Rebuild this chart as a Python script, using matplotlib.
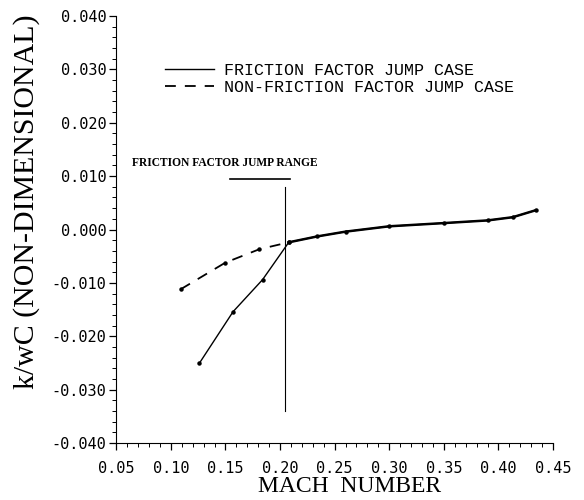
import matplotlib
matplotlib.use("Agg")
import matplotlib.pyplot as plt
from matplotlib.ticker import MultipleLocator, FormatStrFormatter

# friction factor jump case (solid)
mach_jump = [0.126, 0.157, 0.184, 0.208, 0.234, 0.26, 0.30, 0.35, 0.39, 0.413, 0.434]
kwc_jump = [-0.0251, -0.0154, -0.0094, -0.0024, -0.0013, -0.0004, 0.0006, 0.0012, 0.0017, 0.0023, 0.0036]

# non-friction factor jump case (dashed), joins the solid curve at M=0.208
mach_nojump = [0.109, 0.150, 0.181, 0.208]
kwc_nojump = [-0.0112, -0.0062, -0.0037, -0.0024]

# "friction factor jump range" marker
range_x = [0.154, 0.209]
range_y = 0.0094
jump_x = 0.205
jump_y = [0.0080, -0.0340]

xticks = [0.05, 0.10, 0.15, 0.20, 0.25, 0.30, 0.35, 0.40, 0.45]
yticks = [-0.04, -0.03, -0.02, -0.01, 0.0, 0.01, 0.02, 0.03, 0.04]

fig = plt.figure(figsize=(5.84, 5.0), dpi=100)
ax = fig.add_axes([0.199, 0.114, 0.748, 0.854])

ax.plot(mach_jump, kwc_jump, color='black', lw=1.0, marker='o', ms=2.2,
        label='FRICTION FACTOR JUMP CASE')
ax.plot(mach_nojump, kwc_nojump, color='black', lw=1.3, ls=(0, (6, 5)),
        marker='o', ms=2.2, label='NON-FRICTION FACTOR JUMP CASE')
# thicker overlapping tail
ax.plot(mach_jump[3:], kwc_jump[3:], color='black', lw=1.8)

ax.plot(range_x, [range_y, range_y], color='black', lw=1.2)
ax.plot([jump_x, jump_x], jump_y, color='black', lw=0.8)
ax.text(0.064, 0.0124, 'FRICTION FACTOR JUMP RANGE', fontsize=8.3,
        family='Liberation Serif', fontweight='bold', va='center')

ax.set_xlim(0.05, 0.45)
ax.set_ylim(-0.04, 0.04)
ax.set_xticks(xticks)
ax.set_yticks(yticks)
ax.xaxis.set_minor_locator(MultipleLocator(0.01))
ax.yaxis.set_minor_locator(MultipleLocator(0.002))
ax.xaxis.set_major_formatter(FormatStrFormatter('%.2f'))
ax.yaxis.set_major_formatter(FormatStrFormatter('%.3f'))
ax.tick_params(which='major', direction='out', length=5, width=0.9,
               labelsize=11, pad=2)
ax.tick_params(axis='x', which='major', pad=8)
ax.tick_params(which='minor', direction='out', length=3, width=0.7)
for lab in ax.get_xticklabels() + ax.get_yticklabels():
    lab.set_family('DejaVu Sans Mono')

for s in ['top', 'right']:
    ax.spines[s].set_visible(False)

ax.set_xlabel('MACH  NUMBER', family='Liberation Serif', fontsize=17)
ax.xaxis.set_label_coords(0.535, -0.103)
ax.set_ylabel('k/wC (NON-DIMENSIONAL)', family='Liberation Serif', fontsize=21.5)
ax.yaxis.set_label_coords(-0.205, 0.564)
ax.xaxis.label.set_va('center')
ax.yaxis.label.set_va('center')

leg = ax.legend(loc='upper left', bbox_to_anchor=(0.078, 0.926), frameon=False,
                handlelength=2.9, handletextpad=0.6, labelspacing=0.15,
                prop={'family': 'Liberation Mono', 'size': 12})
for h in leg.legend_handles:
    h.set_marker('')

fig.savefig('out.png', dpi=100)
